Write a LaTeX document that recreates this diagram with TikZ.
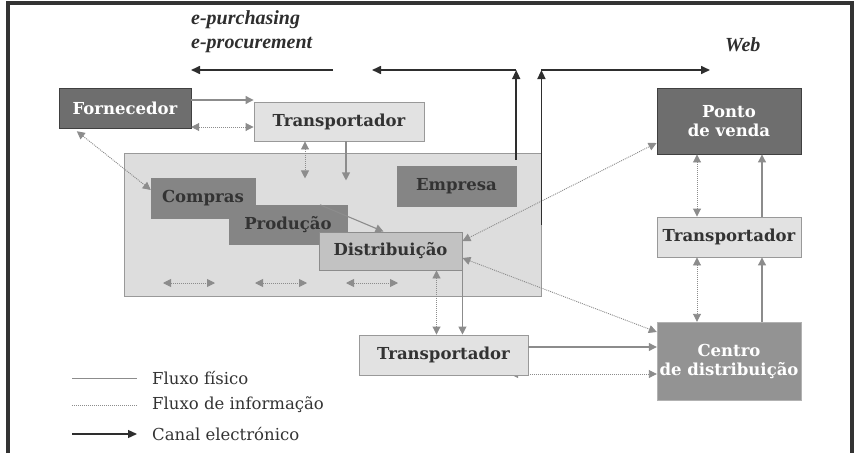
\documentclass[tikz,border=0pt]{standalone}
\usepackage{fontspec}
\setmainfont{DejaVu Serif}
\newfontfamily\titfont{Liberation Serif}
\usetikzlibrary{arrows.meta}

\definecolor{framegray}{HTML}{333333}
\definecolor{arrowgray}{HTML}{8C8C8C}
\definecolor{elecgray}{HTML}{2E2E2E}
\definecolor{darkfill}{HTML}{6E6E6E}
\definecolor{midfill}{HTML}{858585}
\definecolor{centrofill}{HTML}{939393}
\definecolor{distfill}{HTML}{C2C2C2}
\definecolor{lightfill}{HTML}{E2E2E2}
\definecolor{bgfill}{HTML}{DDDDDD}
\definecolor{textdark}{HTML}{333333}

\tikzset{
  boxlbl/.style={rectangle, inner sep=0pt, align=center,
    font=\bfseries\fontsize{16.5}{19}\selectfont},
  darkbox/.style={boxlbl, fill=darkfill, draw=black!75, text=white},
  midbox/.style={boxlbl, fill=midfill, draw=midfill, text=textdark},
  lightbox/.style={boxlbl, fill=lightfill, draw=gray!80, line width=0.9pt, text=textdark},
  fis/.style={draw=arrowgray, line width=1.1pt, -{Triangle[length=8pt,width=8pt]}},
  info/.style={draw=arrowgray, line width=0.9pt, dash pattern=on 1pt off 1pt,
    {Triangle[length=8pt,width=8pt]}-{Triangle[length=8pt,width=8pt]}},
  elec/.style={draw=elecgray, line width=1.6pt, -{Triangle[length=9pt,width=8pt]}},
  legtxt/.style={anchor=west, inner sep=0pt, text=textdark, font=\fontsize{16.5}{19}\selectfont},
  ttl/.style={anchor=west, inner sep=0pt, text=elecgray,
    font=\titfont\bfseries\itshape\fontsize{20}{22}\selectfont}
}

\begin{document}
\begin{tikzpicture}[x=1pt,y=-1pt]
    \useasboundingbox (0,0) rectangle (855,453);
    % moldura
    \draw[line width=3.5pt, color=framegray] (8,453) -- (8,3) -- (852,3) -- (852,453);

    % titulos dos canais
    \node[ttl] (purch) at (191,20) {e-purchasing};
    \node[ttl] (procu) at (191,45) {e-procurement};
    \node[ttl] (web) at (725,45) {Web};

    % empresa
    \node[rectangle, fill=bgfill, draw=gray!80, line width=0.9pt,
          minimum width=417pt, minimum height=143pt] (bg) at (332.5,224.5) {};
    \node[midbox, minimum width=119pt, minimum height=40pt] (empresa) at (456.5,186) {Empresa};
    \node[midbox, minimum width=104pt, minimum height=40pt] (compras) at (203,198) {Compras};
    \node[midbox, minimum width=118pt, minimum height=39pt] (prod) at (288,224.5) {Produção};
    \node[boxlbl, fill=distfill, draw=gray!90, line width=0.9pt, text=textdark,
          minimum width=143pt, minimum height=38pt] (dist) at (390.5,251) {Distribuição};

    % outros
    \node[darkbox, minimum width=132pt, minimum height=40pt] (forn) at (125,108) {Fornecedor};
    \node[lightbox, minimum width=170pt, minimum height=39pt] (transT) at (339,121.5) {Transportador};
    \node[darkbox, line width=0.9pt, minimum width=144pt, minimum height=66pt] (ponto) at (729,121) {Ponto\\de venda};
    \node[lightbox, minimum width=144pt, minimum height=40pt] (transR) at (729,237) {Transportador};
    \node[boxlbl, fill=centrofill, draw=gray!60, text=white,
          minimum width=144pt, minimum height=78pt] (centro) at (729,361) {Centro\\de distribuição};
    \draw[info] (510,374) -- (centro.west |- 0,374);
    \node[lightbox, minimum width=169pt, minimum height=40pt] (transB) at (443.5,355) {Transportador};

    % fluxos
    \draw[fis] (forn.east |- 0,100) -- (transT.west |- 0,100);
    \draw[info] (forn.east |- 0,127) -- (transT.west |- 0,127);
    \draw[info] ([xshift=18pt,yshift=-3pt]forn.south west) -- ([yshift=8pt]compras.west);
    \draw[info] ([xshift=-34pt]transT.south) -- ++(0,37);
    \draw[fis] ([xshift=7pt]transT.south) -- ++(0,39);
    \draw[fis] ([xshift=32pt]prod.north) -- ([xshift=-7pt]dist.north);
    \foreach \x in {163,255,346}
        \draw[info] (\x,283) -- ++(52,0);
    \draw[info] ([yshift=10pt]dist.east) -- ([yshift=-22pt]ponto.west);
    \draw[info] ([yshift=-7pt]dist.east) -- ([yshift=29pt]centro.west);
    \draw[info] ([xshift=46pt]dist.south) -- ([xshift=46pt]dist.south |- transB.north);
    \draw[fis] (dist.south east) -- (dist.south east |- transB.north);
    \draw[fis] (transB.east |- 0,347) -- (centro.west |- 0,347);
    \draw[info] ([xshift=-32pt]centro.north) -- ([xshift=-32pt]transR.south);
    \draw[fis] ([xshift=33pt]centro.north) -- ([xshift=33pt]transR.south);
    \draw[info] ([xshift=-32pt]transR.north) -- ([xshift=-32pt]ponto.south);
    \draw[fis] ([xshift=33pt]transR.north) -- ([xshift=33pt]ponto.south);

    % canais electronicos
    \coordinate (webL) at (empresa.north east |- 0,70);
    \coordinate (webR) at (bg.north east |- 0,70);
    \draw[elec] (333,70) -- (191,70);
    \draw[elec] ([yshift=6pt]empresa.north east) -- (webL);
    \draw[elec] (webL) -- (372,70);
    \draw[elec] (bg.east) -- (webR);
    \draw[elec] (webR) -- (710,70);

    % legenda
    \draw[draw=arrowgray, line width=0.8pt] (72,378) -- (137,378);
    \draw[draw=arrowgray, line width=0.8pt, dash pattern=on 1pt off 1pt] (72,405) -- (137,405);
    \draw[elec, line width=1.3pt] (72,434) -- (137,434);
    \node[legtxt] (lfis) at (152,378) {Fluxo físico};
    \node[legtxt] (linfo) at (152,405) {Fluxo de informação};
    \node[legtxt] (lelec) at (152,434) {Canal electrónico};
\end{tikzpicture}
\end{document}
